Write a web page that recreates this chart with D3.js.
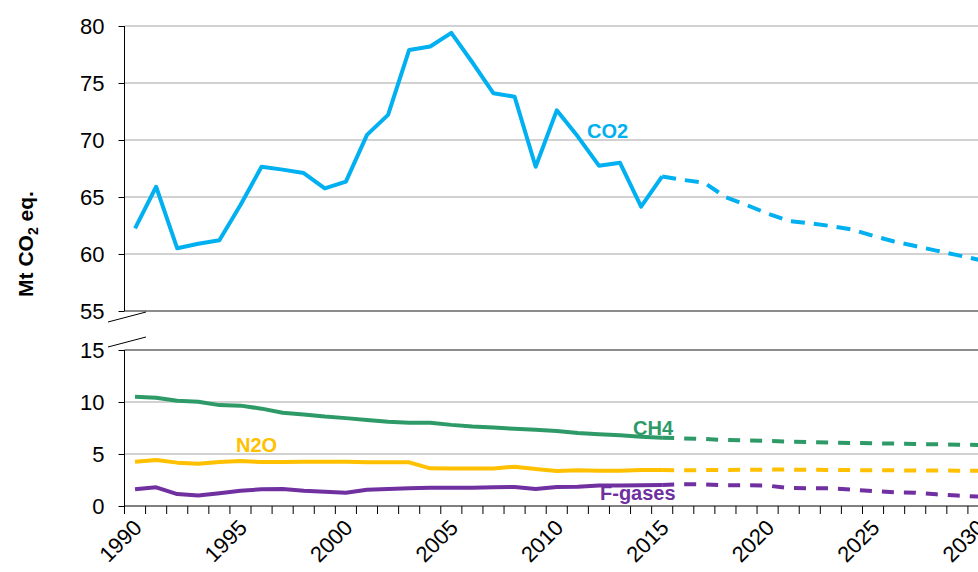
<html>
<head>
<meta charset="utf-8">
<title>Mt CO2 eq.</title>
<style>
  body { margin: 0; background: #fff; }
  svg { display: block; font-family: "Liberation Sans", Arial, sans-serif; }
</style>
</head>
<body>
<div id="chart"></div>
<script src="https://cdn.jsdelivr.net/npm/d3@7"></script>
<script>
// years 1990..2030, history up to 2015, projection after
var years = d3.range(1990, 2031);
var lastHistYear = 2015;
var xLabels = [1990, 1995, 2000, 2005, 2010, 2015, 2020, 2025, 2030];

var co2 = [62.25, 65.9, 60.5, 60.9, 61.2, 64.3, 67.65, 67.4, 67.1, 65.75,
           66.35, 70.45, 72.2, 77.9, 78.2, 79.4, 76.8, 74.1, 73.8, 67.65,
           72.6, 70.3, 67.75, 68.0, 64.15, 66.8,
           66.5, 66.25, 65.0, 64.3, 63.55, 62.9, 62.7, 62.45, 62.15, 61.6,
           61.1, 60.7, 60.3, 59.9, 59.5];
var ch4 = [10.5, 10.4, 10.12, 10.03, 9.7, 9.65, 9.36, 8.97, 8.8, 8.6,
           8.45, 8.27, 8.1, 8.0, 8.0, 7.8, 7.65, 7.55, 7.42, 7.32,
           7.22, 7.02, 6.9, 6.8, 6.67, 6.57,
           6.5, 6.44, 6.35, 6.3, 6.25, 6.2, 6.15, 6.1, 6.06, 6.03,
           6.0, 5.97, 5.93, 5.9, 5.87];
var n2o = [4.26, 4.42, 4.17, 4.07, 4.23, 4.33, 4.23, 4.23, 4.26, 4.26,
           4.26, 4.2, 4.2, 4.2, 3.62, 3.6, 3.6, 3.6, 3.78, 3.56,
           3.37, 3.43, 3.4, 3.4, 3.46, 3.46,
           3.43, 3.45, 3.47, 3.48, 3.5, 3.5, 3.48, 3.46, 3.45, 3.44,
           3.43, 3.42, 3.41, 3.4, 3.4];
var fgas = [1.6, 1.8, 1.15, 1.0, 1.22, 1.47, 1.6, 1.63, 1.47, 1.38,
            1.28, 1.57, 1.63, 1.7, 1.76, 1.76, 1.76, 1.8, 1.83, 1.63,
            1.83, 1.86, 1.96, 1.98, 2.0, 2.02,
            2.1, 2.08, 2.0, 2.0, 1.96, 1.73, 1.7, 1.7, 1.57, 1.44,
            1.31, 1.28, 1.12, 1.0, 0.9];

var width = 978, height = 572;
var left = 124.5, right = 989;
var topY = 26, topBottom = 311, botTop = 350, botY = 506;

var svg = d3.select("#chart").append("svg")
    .attr("width", width)
    .attr("height", height);

var x = d3.scaleBand().domain(years).range([left, right]).padding(0);
var cx = function(yr) { return x(yr) + x.bandwidth() / 2; };
var yTop = d3.scaleLinear().domain([55, 80]).range([topBottom, topY]);
var yBot = d3.scaleLinear().domain([0, 15]).range([botY, botTop]);

// gridlines
function grid(scale, vals) {
  svg.append("g").selectAll("line").data(vals).enter().append("line")
    .attr("x1", left).attr("x2", right)
    .attr("y1", function(d) { return scale(d); })
    .attr("y2", function(d) { return scale(d); })
    .attr("stroke", "#a6a6a6").attr("stroke-width", 1.2);
}
grid(yTop, [60, 65, 70, 75, 80]);
grid(yBot, [5, 10]);
svg.append("line").attr("x1", left).attr("x2", right)
  .attr("y1", yTop(55)).attr("y2", yTop(55))
  .attr("stroke", "#8c8c8c").attr("stroke-width", 2);
svg.append("line").attr("x1", left).attr("x2", right)
  .attr("y1", yBot(15)).attr("y2", yBot(15))
  .attr("stroke", "#8c8c8c").attr("stroke-width", 2);

// y axes
var axTop = svg.append("g").attr("transform", "translate(" + left + ",0)")
  .call(d3.axisLeft(yTop).tickValues([55, 60, 65, 70, 75, 80]).tickSize(6).tickPadding(14));
var axBot = svg.append("g").attr("transform", "translate(" + left + ",0)")
  .call(d3.axisLeft(yBot).tickValues([0, 5, 10, 15]).tickSize(6).tickPadding(14));
[axTop, axBot].forEach(function(a) {
  a.select(".domain").remove();
  a.selectAll(".tick line").attr("stroke", "#000");
  a.selectAll(".tick text").attr("font-size", 22).attr("fill", "#000")
    .attr("font-family", "Liberation Sans, Arial, sans-serif");
});
svg.append("line").attr("x1", left).attr("x2", left).attr("y1", topY).attr("y2", topBottom).attr("stroke", "#000");
svg.append("line").attr("x1", left).attr("x2", left).attr("y1", botTop).attr("y2", botY).attr("stroke", "#000");

// break marks
svg.append("line").attr("x1", 108).attr("y1", 322).attr("x2", 146).attr("y2", 312).attr("stroke", "#000");
svg.append("line").attr("x1", 108).attr("y1", 347).attr("x2", 146).attr("y2", 337).attr("stroke", "#000");

// x axis
svg.append("line").attr("x1", left).attr("x2", right).attr("y1", botY).attr("y2", botY).attr("stroke", "#000");
svg.append("g").selectAll("line").data(years).enter().append("line")
  .attr("x1", function(d) { return x(d); }).attr("x2", function(d) { return x(d); })
  .attr("y1", botY).attr("y2", botY + 8).attr("stroke", "#000");
svg.append("g").selectAll("text").data(xLabels).enter().append("text")
  .attr("transform", function(d) { return "translate(" + (cx(d) + 8) + "," + (botY + 23) + ") rotate(-45)"; })
  .attr("text-anchor", "end")
  .attr("font-size", 22)
  .text(function(d) { return d; });

// y title
svg.append("text")
  .attr("transform", "translate(33,244) rotate(-90)")
  .attr("text-anchor", "middle")
  .attr("font-size", 21).attr("font-weight", "bold")
  .html('Mt CO<tspan font-size="14" dy="5">2</tspan><tspan dy="-5"> eq.</tspan>');

// series
var series = [
  { name: "CO2", vals: co2, color: "#00b0f0", y: yTop, dash: "14,9" },
  { name: "CH4", vals: ch4, color: "#2e9a68", y: yBot, dash: "12,10" },
  { name: "N2O", vals: n2o, color: "#ffc000", y: yBot, dash: "12,10" },
  { name: "F-gases", vals: fgas, color: "#7030a0", y: yBot, dash: "12,10" }
];
series.forEach(function(s) {
  var pts = years.map(function(yr, i) { return { yr: yr, v: s.vals[i] }; });
  var line = d3.line().x(function(d) { return cx(d.yr); }).y(function(d) { return s.y(d.v); });
  svg.append("path").datum(pts.filter(function(d) { return d.yr <= lastHistYear; }))
    .attr("d", line).attr("fill", "none").attr("stroke", s.color)
    .attr("stroke-width", 4).attr("stroke-linejoin", "round");
  svg.append("path").datum(pts.filter(function(d) { return d.yr >= lastHistYear; }))
    .attr("d", line).attr("fill", "none").attr("stroke", s.color)
    .attr("stroke-width", 4).attr("stroke-dasharray", s.dash);
});

// series labels
var labels = [
  { t: "CO2", x: 587, y: 138, c: "#00b0f0" },
  { t: "N2O", x: 236, y: 452, c: "#ffc000" },
  { t: "CH4", x: 633, y: 435, c: "#2e9a68" },
  { t: "F-gases", x: 600, y: 500, c: "#7030a0" }
];
svg.append("g").selectAll("text").data(labels).enter().append("text")
  .attr("x", function(d) { return d.x; }).attr("y", function(d) { return d.y; })
  .attr("fill", function(d) { return d.c; })
  .attr("font-size", 20).attr("font-weight", "bold")
  .text(function(d) { return d.t; });
</script>
</body>
</html>
